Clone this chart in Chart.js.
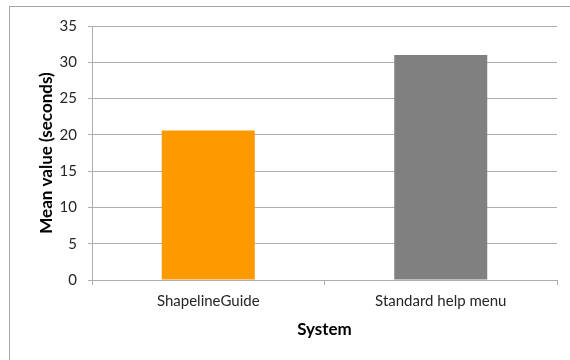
<!DOCTYPE html>
<html>
<head>
<meta charset="utf-8">
<script src="https://cdn.jsdelivr.net/npm/chart.js@4/dist/chart.umd.min.js"></script>
<style>
  html, body { margin: 0; padding: 0; background: #fff; }
  #wrap { width: 570px; height: 360px; position: relative; }
</style>
</head>
<body>
<div id="wrap"><canvas id="chart"></canvas></div>
<script>
const systems = ['ShapelineGuide', 'Standard help menu']
const meanSeconds = [20.6, 31]
const barColors = ['#FF9900', '#808080']
const yMax = 35
const yStep = 5

// light gray frame around the figure (only top/left visible, rest cropped)
const frame = {
    id: 'frame',
    afterDraw(chart) {
        const ctx = chart.ctx
        ctx.save()
        ctx.strokeStyle = '#A6A6A6'
        ctx.lineWidth = 1
        ctx.strokeRect(9.5, 6.5, 600, 400)
        ctx.restore()
    }
}

Chart.defaults.font.family = 'Lato, "Open Sans", sans-serif'

new Chart(document.getElementById('chart').getContext('2d'), {
    type: 'bar',
    data: {
        labels: systems,
        datasets: [{
            data: meanSeconds,
            backgroundColor: barColors,
            barPercentage: 0.4,
            categoryPercentage: 1.0,
        }]
    },
    options: {
        responsive: true,
        maintainAspectRatio: false,
        animation: false,
        layout: { padding: { top: 26, right: 13, left: 0, bottom: 0 } },
        plugins: {
            legend: { display: false },
            tooltip: { enabled: false }
        },
        scales: {
            y: {
                min: 0,
                max: yMax,
                ticks: {
                    stepSize: yStep,
                    padding: 11,
                    color: '#262626',
                    font: { size: 15 }
                },
                grid: {
                    color: '#ADADAD',
                    tickLength: 4,
                },
                border: { color: '#ADADAD' },
                title: {
                    display: true,
                    text: 'Mean value (seconds)',
                    color: '#000',
                    font: { size: 17, weight: 'bold' },
                    padding: { top: 36, bottom: 0 }
                },
                afterFit(scale) { scale.width = 92 }
            },
            x: {
                ticks: {
                    padding: 7,
                    color: '#262626',
                    font: { size: 15 }
                },
                grid: {
                    drawOnChartArea: false,
                    color: '#ADADAD',
                    tickLength: 5,
                },
                border: { color: '#ADADAD' },
                title: {
                    display: true,
                    text: 'System',
                    color: '#000',
                    font: { size: 17, weight: 'bold' },
                    padding: { top: 0, bottom: 20 }
                },
                afterFit(scale) { scale.height = 80 }
            }
        }
    },
    plugins: [frame]
})
</script>
</body>
</html>
